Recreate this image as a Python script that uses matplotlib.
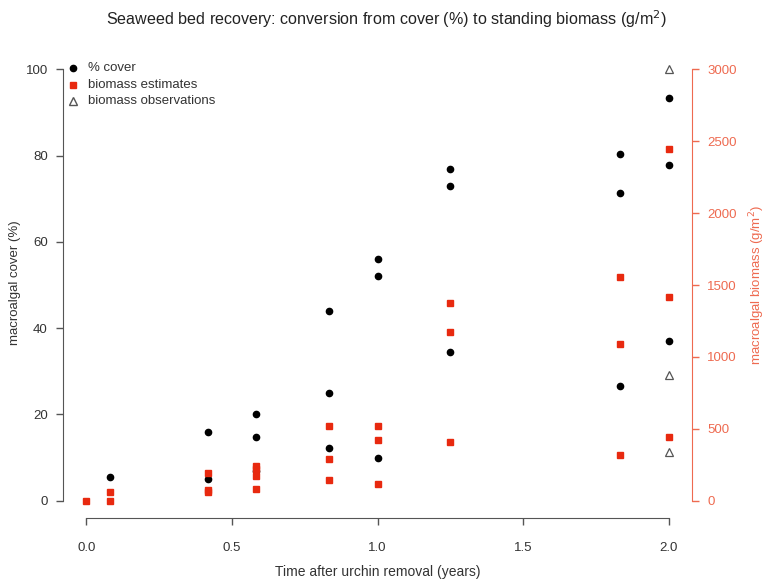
import matplotlib.pyplot as plt

plt.rcParams["font.family"] = ["Liberation Sans", "DejaVu Sans"]

# % cover per survey time
cover_t = [0.083, 0.417, 0.417, 0.583, 0.583, 0.583, 0.833, 0.833, 0.833,
           1.0, 1.0, 1.0, 1.25, 1.25, 1.25, 1.833, 1.833, 1.833, 2.0, 2.0, 2.0]
cover = [5.5, 16.0, 5.1, 20.1, 14.8, 7.0, 44.0, 24.9, 12.3,
         56.0, 52.2, 10.0, 76.9, 72.9, 34.5, 80.3, 71.3, 26.6, 93.3, 77.8, 37.0]

# biomass estimated from cover (g/m2)
bio_t = [0.0, 0.083, 0.083, 0.417, 0.417, 0.417, 0.583, 0.583, 0.583, 0.583,
         0.833, 0.833, 0.833, 1.0, 1.0, 1.0, 1.25, 1.25, 1.25,
         1.833, 1.833, 1.833, 2.0, 2.0, 2.0]
bio_est = [0, 60, 0, 190, 75, 62, 245, 220, 175, 85,
           520, 290, 145, 520, 425, 118, 1375, 1175, 410,
           1555, 1090, 320, 2445, 1415, 445]

# biomass observations (g/m2)
obs_t = [2.0, 2.0, 2.0]
obs = [3000, 875, 340]

x_ticks = [0.0, 0.5, 1.0, 1.5, 2.0]
cover_ticks = [0, 20, 40, 60, 80, 100]
bio_ticks = [0, 500, 1000, 1500, 2000, 2500, 3000]

axis_grey = "#555555"
text_grey = "#333333"
salmon = "#ee6a50"
red = "#e8290f"

fig = plt.figure(figsize=(7.68, 5.79), dpi=100)
ax = fig.add_axes([63 / 768, 1 - 518 / 579, 629 / 768, 466 / 579])
ax2 = ax.twinx()

ax.plot(cover_t, cover, "o", color="black", markersize=4.5, zorder=3)
ax2.plot(bio_t, bio_est, "s", color=red, markersize=4.2, zorder=3)
ax2.plot(obs_t, obs, "^", markerfacecolor="none", markeredgecolor=axis_grey,
         markersize=6, markeredgewidth=0.9, zorder=3)

ax.set_xlim(-0.08, 2.08)
ax.set_ylim(-4, 104)
ax2.set_ylim(-120, 3120)

for a in (ax, ax2):
    a.spines["top"].set_visible(False)
ax.spines["right"].set_visible(False)
ax2.spines["left"].set_visible(False)
ax2.spines["bottom"].set_visible(False)

ax.spines["left"].set_bounds(0, 100)
ax.spines["bottom"].set_bounds(0, 2)
ax2.spines["right"].set_bounds(0, 3000)
ax.spines["left"].set_color(axis_grey)
ax.spines["bottom"].set_color(axis_grey)
ax2.spines["right"].set_color(salmon)

ax.set_xticks(x_ticks)
ax.set_xticklabels([f"{v:.1f}" for v in x_ticks])
ax.set_yticks(cover_ticks)
ax2.set_yticks(bio_ticks)

ax.tick_params(axis="both", direction="out", length=5, width=1.0,
               colors=axis_grey, labelcolor=text_grey, labelsize=9.5)
ax.tick_params(axis="x", pad=12)
ax.tick_params(axis="y", pad=6)
ax2.tick_params(axis="y", direction="out", length=5, width=1.0,
                colors=salmon, labelcolor=salmon, labelsize=9.5, pad=6)

ax.set_xlabel("Time after urchin removal (years)", fontsize=10, color=text_grey, labelpad=8)
fig.text(15 / 768, 1 - 283 / 579, "macroalgal cover (%)", rotation=90,
         ha="center", va="center", fontsize=9.5, color=text_grey)
fig.text(757 / 768, 1 - 285 / 579, "macroalgal biomass (g/m$^2$)", rotation=90,
         ha="center", va="center", fontsize=9.5, color=salmon)

fig.text(386 / 768, 1 - 19 / 579,
         "Seaweed bed recovery: conversion from cover (%) to standing biomass (g/m$^2$)",
         ha="center", va="center", fontsize=11.6, color="#222222")

# legend drawn by hand in R style (no frame)
legend_rows = [("o", "black", "black", "% cover"),
               ("s", red, red, "biomass estimates"),
               ("^", "none", axis_grey, "biomass observations")]
for i, (m, fc, ec, lab) in enumerate(legend_rows):
    yy = 1 - (68 + i * 16.5) / 579
    fig.lines.append(plt.Line2D([73 / 768], [yy], marker=m, markersize=4.5 if m != "^" else 5.5,
                                markerfacecolor=fc, markeredgecolor=ec, linestyle="none",
                                transform=fig.transFigure))
    fig.text(88 / 768, yy, lab, ha="left", va="center", fontsize=9.5, color=text_grey)

fig.savefig("out.png", dpi=100)
